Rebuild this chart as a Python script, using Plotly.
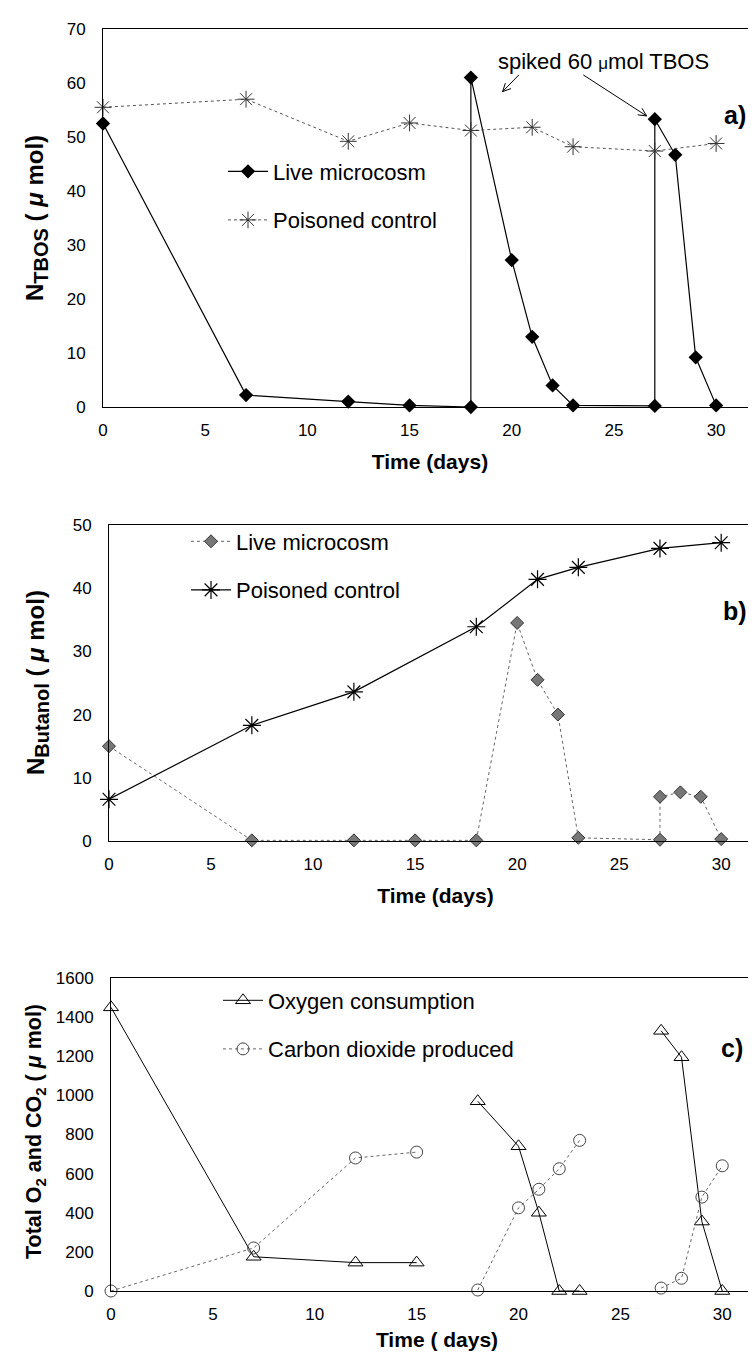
import math
import plotly.graph_objects as go

# ---------------- data ----------------
days_a_live = [0, 7, 12, 15, 18, 18, 20, 21, 22, 23, 27, 27, 28, 29, 30]
tbos_live = [52.5, 2.2, 1.0, 0.3, 0.0, 61.0, 27.2, 13.0, 4.0, 0.3, 0.2, 53.3, 46.7, 9.2, 0.3]
days_a_pois = [0, 7, 12, 15, 18, 21, 23, 27, 30]
tbos_pois = [55.5, 57.0, 49.2, 52.6, 51.2, 51.8, 48.2, 47.4, 48.8]

days_b_live = [0, 7, 12, 15, 18, 20, 21, 22, 23, 27, 27, 28, 29, 30]
but_live = [15.0, 0.1, 0.1, 0.1, 0.1, 34.5, 25.5, 20.0, 0.5, 0.2, 7.0, 7.7, 7.0, 0.3]
days_b_pois = [0, 7, 12, 18, 21, 23, 27, 30]
but_pois = [6.6, 18.3, 23.6, 33.9, 41.4, 43.3, 46.3, 47.2]

days_c = [0, 7, 12, 15, None, 18, 20, 21, 22, 23, None, 27, 28, 29, 30]
o2_cons = [1450, 175, 145, 145, None, 970, 740, 400, 0, 0, None, 1330, 1195, 355, 0]
co2_prod = [0, 220, 680, 710, None, 5, 425, 520, 625, 770, None, 15, 65, 480, 640]

x_ticks = [0, 5, 10, 15, 20, 25, 30]
x_range = [0, 32]
ya_range, yb_range, yc_range = [0, 70], [0, 50], [0, 1600]

SANS = "Liberation Sans, Arial, sans-serif"
W, H = 756, 1357

# panel boxes in pixels (left, right, top, bottom)
box_a = (95, 749, 21, 399)
box_b = (101, 754, 517, 833)
box_c = (103, 755, 970, 1283)


def xdom(b):
    return [b[0] / W, b[1] / W]


def ydom(b):
    return [1 - b[3] / H, 1 - b[2] / H]


fig = go.Figure()

# panel a
fig.add_trace(go.Scatter(x=days_a_live, y=tbos_live, mode="lines+markers", name="Live microcosm",
                         line=dict(color="black", width=1.2),
                         marker=dict(symbol="diamond", size=11, color="black"),
                         xaxis="x", yaxis="y", legend="legend", legendgroup="a1", cliponaxis=False))
fig.add_trace(go.Scatter(x=days_a_pois, y=tbos_pois, mode="lines+markers", name="Poisoned control",
                         line=dict(color="#555555", width=1, dash="dot"),
                         marker=dict(symbol="asterisk-open", size=14, color="#333333", line=dict(width=1, color="#333333")),
                         xaxis="x", yaxis="y", legend="legend", legendgroup="a2", cliponaxis=False))
# panel b
fig.add_trace(go.Scatter(x=days_b_live, y=but_live, mode="lines+markers", name="Live microcosm",
                         line=dict(color="#666666", width=1, dash="dot"),
                         marker=dict(symbol="diamond", size=10, color="#777777", line=dict(width=1, color="#333333")),
                         xaxis="x2", yaxis="y2", legend="legend2", legendgroup="b1", cliponaxis=False))
fig.add_trace(go.Scatter(x=days_b_pois, y=but_pois, mode="lines+markers", name="Poisoned control",
                         line=dict(color="black", width=1.2),
                         marker=dict(symbol="asterisk-open", size=15, color="black", line=dict(width=1.2, color="black")),
                         xaxis="x2", yaxis="y2", legend="legend2", legendgroup="b2", cliponaxis=False))
# panel c
fig.add_trace(go.Scatter(x=days_c, y=o2_cons, mode="lines+markers", name="Oxygen consumption",
                         line=dict(color="black", width=1),
                         marker=dict(symbol="triangle-up-open", size=13, color="black", line=dict(width=1, color="black")),
                         xaxis="x3", yaxis="y3", legend="legend3", legendgroup="c1", cliponaxis=False, connectgaps=False))
fig.add_trace(go.Scatter(x=days_c, y=co2_prod, mode="lines+markers", name="Carbon dioxide produced",
                         line=dict(color="#666666", width=1, dash="dot"),
                         marker=dict(symbol="circle-open", size=12, color="#444444", line=dict(width=1, color="#444444")),
                         xaxis="x3", yaxis="y3", legend="legend3", legendgroup="c2", cliponaxis=False, connectgaps=False))

axis_common = dict(showline=True, linecolor="black", linewidth=1, mirror=True, showgrid=False,
                   zeroline=False, ticks="", automargin=False,
                   tickfont=dict(family=SANS, size=17, color="black"))
xa = dict(axis_common, range=x_range, tickvals=x_ticks, ticklabelstandoff=8)
title_x = dict(font=dict(family=SANS, size=21, color="black"), standoff=14)

layout = dict(
    width=W, height=H, margin=dict(l=0, r=0, t=0, b=0, autoexpand=False),
    paper_bgcolor="white", plot_bgcolor="white", showlegend=True,
    xaxis=dict(xa, domain=xdom(box_a), anchor="y", title=dict(title_x, text="<b>Time (days)</b>")),
    yaxis=dict(axis_common, range=ya_range, dtick=10, domain=ydom(box_a), anchor="x", ticklabelstandoff=13),
    xaxis2=dict(xa, domain=xdom(box_b), anchor="y2", title=dict(title_x, text="<b>Time (days)</b>")),
    yaxis2=dict(axis_common, range=yb_range, dtick=10, domain=ydom(box_b), anchor="x2", ticklabelstandoff=13),
    xaxis3=dict(xa, domain=xdom(box_c), anchor="y3", title=dict(title_x, text="<b>Time ( days)</b>", standoff=8)),
    yaxis3=dict(axis_common, range=yc_range, dtick=200, domain=ydom(box_c), anchor="x3", ticklabelstandoff=13),
)

leg_common = dict(font=dict(family=SANS, size=22, color="black"), bgcolor="rgba(0,0,0,0)",
                  borderwidth=0, tracegroupgap=17, xanchor="left", yanchor="middle", itemwidth=40)
layout["legend"] = dict(leg_common, x=215 / W, y=1 - 188 / H)
layout["legend2"] = dict(leg_common, x=178 / W, y=1 - 558 / H)
layout["legend3"] = dict(leg_common, x=210 / W, y=1 - 1017 / H)

fig.update_layout(**layout)


# ---- arrows of the "spiked" note, drawn as shapes in panel a data units ----
def px_per_unit(box, xr, yr):
    return (box[1] - box[0]) / (xr[1] - xr[0]), (box[3] - box[2]) / (yr[1] - yr[0])


kx, ky = px_per_unit(box_a, x_range, ya_range)


def arrow(tail, head, head_len=9, spread=0.45):
    shapes = [dict(type="line", xref="x", yref="y", x0=tail[0], y0=tail[1], x1=head[0], y1=head[1],
                   line=dict(color="black", width=1))]
    dxp = (head[0] - tail[0]) * kx
    dyp = (head[1] - tail[1]) * ky
    ang = math.atan2(dyp, dxp)
    for s in (spread, -spread):
        bx = head[0] - head_len * math.cos(ang + s) / kx
        by = head[1] - head_len * math.sin(ang + s) / ky
        shapes.append(dict(type="line", xref="x", yref="y", x0=head[0], y0=head[1], x1=bx, y1=by,
                           line=dict(color="black", width=1)))
    return shapes


shapes = arrow((20.35, 61.5), (19.55, 58.4)) + arrow((23.5, 61.5), (26.6, 53.9))
fig.update_layout(shapes=shapes)

ytitle = dict(xref="paper", yref="paper", showarrow=False, textangle=-90, xanchor="center", yanchor="middle")
anns = [
    dict(text="spiked 60 <span style='font-size:17px'>μ</span>mol TBOS", x=24.5, y=63.9, xref="x", yref="y",
         showarrow=False, font=dict(family=SANS, size=22, color="black")),
    dict(text="<b>a)</b>", x=30.9, y=54.1, xref="x", yref="y", showarrow=False,
         font=dict(family=SANS, size=25, color="black")),
    dict(text="<b>b)</b>", x=30.7, y=36.4, xref="x2", yref="y2", showarrow=False,
         font=dict(family=SANS, size=25, color="black")),
    dict(text="<b>c)</b>", x=30.5, y=1242, xref="x3", yref="y3", showarrow=False,
         font=dict(family=SANS, size=25, color="black")),
    # y-axis titles
    dict(ytitle, text="<b>N<sub><span style='font-size:20px'>TBOS</span></sub> ( <i>μ</i> mol)</b>",
         x=29 / W, y=1 - 210 / H, font=dict(family=SANS, size=24, color="black")),
    dict(ytitle, text="<b>N<sub><span style='font-size:20px'>Butanol</span></sub> ( <i>μ</i> mol)</b>",
         x=29 / W, y=1 - 675 / H, font=dict(family=SANS, size=24, color="black")),
    dict(ytitle, text="<b>Total O<sub><span style='font-size:15px'>2</span></sub> and CO<sub><span style='font-size:15px'>2</span></sub> ( <i>μ</i> mol)</b>",
         x=27 / W, y=1 - 1124 / H, font=dict(family=SANS, size=21.5, color="black")),
]
fig.update_layout(annotations=anns)

fig.write_html("out.html")
